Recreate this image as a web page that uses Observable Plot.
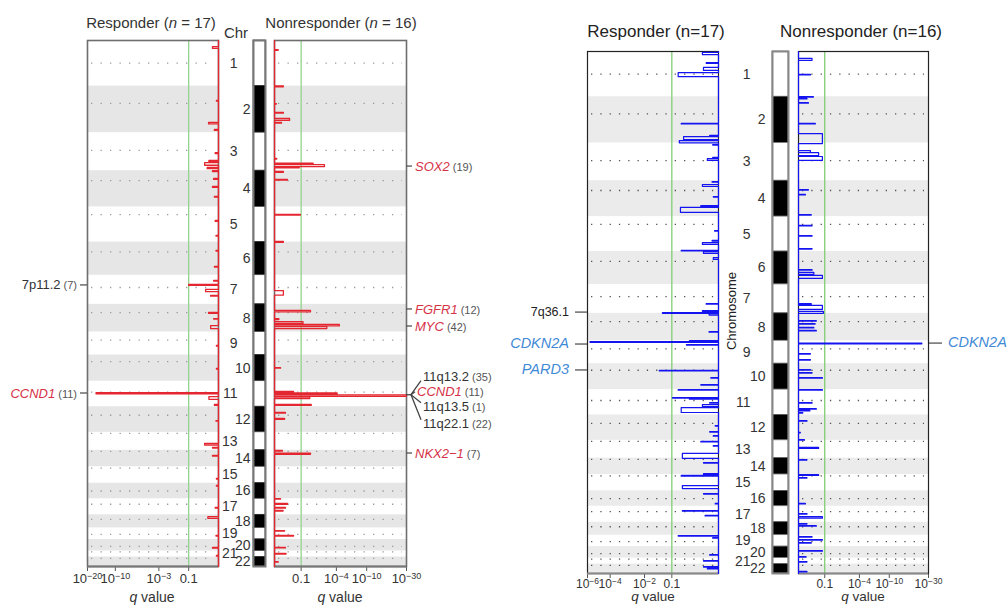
<!DOCTYPE html>
<html><head><meta charset="utf-8">
<script src="https://cdn.jsdelivr.net/npm/d3@7"></script>
<script src="https://cdn.jsdelivr.net/npm/@observablehq/plot@0.6"></script>
<style>
html,body{margin:0;padding:0;background:#fff;overflow:hidden}
#wrap{position:relative;width:1008px;height:605px;overflow:hidden;font-family:"Liberation Sans",Arial,Helvetica,sans-serif}
.lbl{position:absolute;white-space:nowrap;transform:translate(-50%,-50%);line-height:1}
</style></head><body><div id="wrap"></div>
<script>
// ---------------- data ----------------
const chromosomes = ["1","2","3","4","5","6","7","8","9","10","11","12","13","14","15","16","17","18","19","20","21","22"];
// effective plotted span of each chromosome (Mb) and centromere offset (Mb)
const chromLengthMb = [241,246,201,191,186,175,154,146,122,138,135,135,95,87,87,82,85,69,61,61,32,50];
const centromereMb  = [120,91,94,52,41,52,65,44,43,35,58,45,6,6,7,41,29,24,34,37,5,7];

// segments: [genome position (Mb, cumulative), span (Mb), -log10 q]
const ampResponder = [
 [32,10,0.15],[317,3,0.05],[433,8,0.26],[470,5,0.1],
 [592,5,0.08],[634,6,0.25],[645,14,0.38],[671,6,0.3],[687,5,0.15],
 [729,5,0.12],[771,5,0.15],[824,4,0.1],[951,4,0.08],[1030,3,0.06],
 [1109,3,0.06],[1194,3,0.1],[1268,3,0.12],[1288,6,1.0],[1315,12,0.35],[1347,4,0.2],
 [1437,5,0.26],[1469,3,0.12],[1506,16,0.2],[1611,3,0.05],[1733,3,0.05],
 [1860,7,16.2],[1881,15,0.25],[1923,4,0.1],[2008,3,0.06],
 [2129,8,0.38],[2150,3,0.15],[2192,4,0.15],[2314,3,0.05],[2351,3,0.05],
 [2467,3,0.08],[2515,10,0.28],[2615,3,0.06],[2678,4,0.15],[2721,3,0.05]
];
const ampNonresponder = [
 [48,4,0.1],[240,5,0.26],[333,3,0.05],[380,4,0.26],[412,10,0.48],[433,4,0.2],
 [623,3,0.06],[648,4,1.73],[656,10,2.67],[670,3,0.9],[692,4,0.26],[734,4,0.4],
 [919,4,0.96],[1062,4,0.26],[1321,24,0.26],
 [1426,8,1.55],[1469,5,0.12],[1485,10,1.1],[1500,8,4.4],[1512,10,2.9],
 [1728,3,0.17],[1854,4,0.64],[1862,6,4.1],[1872,8,30],[1884,8,1.5],[1923,5,1.6],
 [1965,4,0.33],[1997,4,0.3],[2166,3,0.23],[2180,6,1.55],
 [2420,3,0.17],[2446,4,0.4],[2467,4,0.33],[2483,3,0.25],
 [2589,3,0.3],[2615,3,0.64],[2678,3,0.33],[2710,3,0.35],[2753,3,0.1]
];
const delResponder = [
 [5,12,0.27],[59,4,0.2],[85,16,0.25],[112,22,0.82],
 [383,3,0.74],[447,4,0.14],[453,16,0.68],[474,12,0.79],
 [495,3,0.09],[564,3,0.09],[570,10,0.18],
 [692,3,0.1],[708,10,0.27],[772,3,0.08],[820,6,0.3],[830,26,0.76],
 [953,3,0.06],[1006,3,0.1],[1017,10,0.27],
 [1059,3,0.74],[1065,10,0.25],[1097,10,0.08],
 [1342,3,0.2],[1379,4,0.27],[1390,4,1.3],[1395,8,0.15],[1491,3,0.15],
 [1539,3,0.54],[1544,5,5.74],[1560,3,0.61],
 [1698,3,1.41],[1736,3,0.12],[1773,3,0.3],[1800,3,0.82],
 [1842,3,0.98],[1848,3,0.54],[1869,3,0.14],[1880,10,0.27],[1896,26,0.74],
 [1991,3,0.05],[2023,3,0.14],[2045,3,0.08],
 [2076,3,0.3],[2098,3,0.08],[2140,26,0.71],
 [2188,3,0.25],[2247,3,0.25],[2257,4,0.74],[2311,16,0.71],[2353,3,0.25],
 [2406,3,0.05],[2444,3,0.71],[2470,3,0.22],[2577,3,0.82],[2588,3,0.09],
 [2678,3,0.14],[2710,3,0.25],[2742,3,0.25],[2752,3,0.18]
];
const delNonresponder = [
 [37,10,0.43],[122,3,0.37],[240,3,0.48],[250,3,0.25],[272,3,0.3],[383,3,0.56],[437,53,0.88],
 [527,10,0.37],[538,16,0.7],[559,21,0.88],
 [735,3,0.3],[761,3,0.2],[868,3,0.4],[926,3,0.43],[980,3,0.43],[1049,3,0.43],
 [1161,3,0.43],[1176,10,0.5],[1192,16,0.88],
 [1342,3,0.4],[1352,21,0.88],[1384,10,0.93],
 [1432,3,0.6],[1448,3,0.55],[1469,3,0.5],[1485,3,0.6],
 [1553,3,25],[1608,3,0.37],[1640,3,0.37],
 [1693,3,0.37],[1709,3,0.43],[1736,3,0.88],[1800,3,0.88],
 [1869,3,0.43],[1901,3,0.6],[1911,3,0.35],[1922,3,0.12],
 [1965,3,0.25],[2028,2,0.05],[2066,3,0.17],[2108,5,0.7],[2172,3,0.25],
 [2252,5,0.7],[2268,3,0.25],[2406,3,0.2],[2460,3,0.25],[2476,8,0.88],
 [2513,3,0.25],[2524,3,0.6],[2582,3,0.43],[2598,3,0.88],[2614,3,0.4],
 [2657,3,0.88],[2689,3,0.22],[2715,3,0.25],[2768,3,0.25]
];

const qThreshold = 0.1;
const ampRespTicks = [1e-20,1e-10,1e-3,0.1];
const ampNonTicks  = [0.1,1e-4,1e-10,1e-30];
const delRespTicks = [1e-6,1e-4,1e-2,0.1];
const delNonTicks  = [0.1,1e-4,1e-10,1e-30];

const ampRespLabels = [{name:"7p11.2",n:7,pos:1294,gene:false},{name:"CCND1",n:11,pos:1865,gene:true}];
const ampNonLabels  = [{name:"SOX2",n:19,pos:666,gene:true},{name:"FGFR1",n:12,pos:1421,gene:true},{name:"MYC",n:42,pos:1511,gene:true},{name:"NKX2\u22121",n:7,pos:2182,gene:true}];
const ampNonFanPos  = 1874;
const ampNonFan     = [{name:"11q13.2",n:35,gene:false},{name:"CCND1",n:11,gene:true},{name:"11q13.5",n:1,gene:false},{name:"11q22.1",n:22,gene:false}];
const delRespLabels = [{name:"7q36.1",pos:1390,gene:false},{name:"CDKN2A",pos:1560,gene:true},{name:"PARD3",pos:1698,gene:true}];
const delNonLabels  = [{name:"CDKN2A",pos:1555,gene:true}];

// ---------------- derived ----------------
const FONT = '"Liberation Sans", Arial, Helvetica, sans-serif';
const total = d3.sum(chromLengthMb);
const starts = Array.from(d3.cumsum([0, ...chromLengthMb.slice(0,-1)]));
const chromTable = chromosomes.map((c,i)=>({chr:c, start:starts[i], end:starts[i]+chromLengthMb[i],
  mid:starts[i]+chromLengthMb[i]/2, cen:starts[i]+centromereMb[i], even:(i+1)%2===0}));

function profile(segs){
  const pts=[{t:0,pos:0}];
  for(const [p,w,t] of segs){pts.push({t:0,pos:p},{t,pos:p},{t,pos:p+w},{t:0,pos:p+w});}
  pts.push({t:0,pos:total});
  return pts;
}
const wrap=document.getElementById("wrap");
function place(el,left,top){el.style.position="absolute";el.style.left=left+"px";el.style.top=top+"px";wrap.appendChild(el);}
function html(content,cx,cy,css){const d=document.createElement("div");d.className="lbl";d.innerHTML=content;d.style.left=cx+"px";d.style.top=cy+"px";Object.assign(d.style,css||{});wrap.appendChild(d);}

function supTicks(svg, supSize){
  d3.select(svg).selectAll("text").each(function(){
    const s=this.textContent;
    if(s.startsWith("10^")){
      const e=s.slice(3); const sel=d3.select(this); sel.text(null);
      sel.append("tspan").text("10");
      sel.append("tspan").attr("dy","-0.45em").attr("font-size",supSize).text("\u2212"+e);
    }
  });
}

function panel(o){
  const tk=o.ticks.map(q=>Math.round(-Math.log10(q)));
  const p=Plot.plot({
    width:o.width,height:o.height,marginLeft:o.mL,marginRight:o.mR,marginTop:o.mT,marginBottom:o.mB,
    style:{background:"transparent",overflow:"visible",fontFamily:FONT,fontSize:o.fs+"px",color:"#333"},
    x:{type:"symlog",domain:[0,o.xMax],reverse:o.reverse},
    y:{domain:[0,total],reverse:true,axis:null},
    marks:[
      Plot.rect(chromTable.filter(d=>d.even),{x1:0,x2:o.xMax,y1:"start",y2:"end",fill:o.band}),
      Plot.ruleY(chromTable,{y:"cen",stroke:o.dot,strokeWidth:1.3,strokeDasharray:o.dash,insetLeft:4,insetRight:4}),
      Plot.ruleX([qThreshold],{x:q=>-Math.log10(q),stroke:o.green,strokeWidth:1.3}),
      Plot.axisX(tk,{tickFormat:t=>t===1?"0.1":"10^"+t,tickSize:5,tickPadding:o.tp,stroke:o.tickStroke,label:null}),
      Plot.frame({stroke:o.frame,strokeWidth:o.frameW}),
      Plot.ruleY([total],{stroke:o.axisLine,strokeWidth:o.axisW}),
      Plot.line(profile(o.segs),{x:"t",y:"pos",stroke:o.color,strokeWidth:o.lw})
    ]
  });
  supTicks(p,o.supSize);
  return p;
}
function ideogram(o){
  return Plot.plot({
    width:o.width,height:o.height,marginLeft:o.mL,marginRight:o.mR,marginTop:o.mT,marginBottom:o.mB,
    style:{background:"transparent",overflow:"visible",fontFamily:FONT,fontSize:o.fs+"px",color:"#333"},
    x:{domain:[0,1],axis:null},
    y:{domain:[0,total],reverse:true,axis:null},
    marks:[
      Plot.rect(chromTable,{x1:0,x2:1,y1:"start",y2:"end",fill:d=>d.even?"#000":"#fff",stroke:o.inner,strokeWidth:0.7}),
      Plot.frame({stroke:o.outline,strokeWidth:o.outW}),
      Plot.text(chromTable.filter(d=>d.even),{y:"mid",text:"chr",frameAnchor:"left",textAnchor:"end",dx:o.dxEven,fill:"#333"}),
      Plot.text(chromTable.filter(d=>!d.even),{y:"mid",text:"chr",frameAnchor:"left",textAnchor:"end",dx:o.dxOdd,fill:"#333"})
    ]
  });
}
function labelText(g,x,y,anchor,it,st){
  const t=g.append("text").attr("x",x).attr("y",y).attr("dy","0.35em").attr("text-anchor",anchor).style("font-family",FONT);
  t.append("tspan").text(it.name).attr("fill",it.gene?st.geneColor:st.plainColor)
    .attr("font-style",it.gene?"italic":null).attr("font-size",it.gene?st.geneSize:st.plainSize);
  if(it.n!=null) t.append("tspan").text(" ("+it.n+")").attr("fill",st.countColor).attr("font-size",st.countSize);
}
function annotate(svg,items,side,frameX,gap,len,textGap,st){
  const y=svg.scale("y"); const g=d3.select(svg).append("g");
  for(const it of items){
    const py=y.apply(it.pos);
    const x0=side==="left"?frameX-gap:frameX+gap, x1=side==="left"?x0-len:x0+len;
    g.append("line").attr("x1",x0).attr("x2",x1).attr("y1",py).attr("y2",py).attr("stroke",st.tick).attr("stroke-width",1.3);
    labelText(g,side==="left"?x1-textGap:x1+textGap,py,side==="left"?"end":"start",it,st);
  }
}

// ---------------- left figure (gains) ----------------
const RED="#e3262f", ampSt={geneColor:"#d63347",plainColor:"#333",countColor:"#555",geneSize:"13px",plainSize:"13px",countSize:"11px",tick:"#555"};
const LR=panel({segs:ampResponder,xMax:20,reverse:true,ticks:ampRespTicks,width:220,height:567,mL:87,mR:2,mT:2,mB:39,
  fs:13,supSize:"9px",tp:2,band:"#e6e6e6",dot:"#9a9a9a",dash:"1.3,8.2",green:"#93d38c",frame:"#6e6e6e",frameW:1.6,axisLine:"#777",axisW:2,tickStroke:"#555",color:RED,lw:1.3});
place(LR,0,38);
annotate(LR,ampRespLabels,"left",87,0,7,3,ampSt);

const LI=ideogram({width:54,height:530,mL:40,mR:2,mT:2,mB:2,fs:14,inner:"#333",outline:"#777",outW:2,dxEven:-3,dxOdd:-16});
place(LI,213,38);

const LN=panel({segs:ampNonresponder,xMax:30,reverse:false,ticks:ampNonTicks,width:244,height:567,mL:2,mR:110,mT:2,mB:39,
  fs:13,supSize:"9px",tp:2,band:"#e6e6e6",dot:"#9a9a9a",dash:"1.3,8.2",green:"#93d38c",frame:"#6e6e6e",frameW:1.6,axisLine:"#777",axisW:2,tickStroke:"#555",color:RED,lw:1.3});
place(LN,272,38);
annotate(LN,ampNonLabels,"right",134,0,6,3,ampSt);
{
  const y=LN.scale("y"); const g=d3.select(LN).append("g"); const py=y.apply(ampNonFanPos);
  const fx=134; const offs=[-18,-3,12,29];
  g.append("line").attr("x1",fx).attr("x2",fx+5).attr("y1",py).attr("y2",py).attr("stroke","#444").attr("stroke-width",1.3);
  ampNonFan.forEach((it,i)=>{
    const ly=py+offs[i]; const ex=it.gene?fx+9:fx+15;
    g.append("line").attr("x1",fx+5).attr("y1",py).attr("x2",ex).attr("y2",ly+(i===0?4:i===1?0:-4)).attr("stroke","#444").attr("stroke-width",1.3);
    labelText(g,it.gene?fx+11:fx+17,ly,"start",it,ampSt);
  });
}
html('Responder (<i>n</i> = 17)',151,22,{fontSize:"15px",color:"#333"});
html('Chr',236,32,{fontSize:"15px",color:"#333"});
html('Nonresponder (<i>n</i> = 16)',341,22,{fontSize:"15px",color:"#333"});
html('<i>q</i> value',152,597,{fontSize:"14px",color:"#333"});
html('<i>q</i> value',340,597,{fontSize:"14px",color:"#333"});

// ---------------- right figure (losses) ----------------
const BLUE="#1414f0", delSt={geneColor:"#3f8ad6",plainColor:"#222",countColor:"#555",geneSize:"14.5px",plainSize:"12.5px",countSize:"12px",tick:"#555"};
const RR=panel({segs:delResponder,xMax:6,reverse:true,ticks:delRespTicks,width:213,height:564,mL:80,mR:2,mT:2,mB:40,
  fs:12,supSize:"8.5px",tp:1,band:"#ebebeb",dot:"#555",dash:"1.3,8",green:"#7fcd72",frame:"#222",frameW:1.2,axisLine:"#888",axisW:2,tickStroke:"#555",color:BLUE,lw:1.2});
place(RR,507,49);
annotate(RR,delRespLabels,"left",80,0,12,6,delSt);

const RI=ideogram({width:70,height:526,mL:52,mR:2,mT:2,mB:2,fs:14,inner:"#666",outline:"#888",outW:2,dxEven:-7,dxOdd:-22});
place(RI,720,49);

const RN=panel({segs:delNonresponder,xMax:30,reverse:false,ticks:delNonTicks,width:217,height:564,mL:2,mR:85,mT:2,mB:40,
  fs:12,supSize:"8.5px",tp:1,band:"#ebebeb",dot:"#555",dash:"1.3,8",green:"#7fcd72",frame:"#222",frameW:1.2,axisLine:"#888",axisW:2,tickStroke:"#555",color:BLUE,lw:1.2});
place(RN,796,49);
annotate(RN,delNonLabels,"right",132,1,13,6,delSt);

html('Responder (n=17)',656,31,{fontSize:"17px",color:"#222"});
html('Nonresponder (n=16)',861,31,{fontSize:"17px",color:"#222"});
html('Chromosome',731,311,{fontSize:"13px",color:"#222",transform:"translate(-50%,-50%) rotate(-90deg)"});
html('<i>q</i> value',653,597,{fontSize:"13.5px",color:"#333"});
html('<i>q</i> value',863,597,{fontSize:"13.5px",color:"#333"});
</script></body></html>
